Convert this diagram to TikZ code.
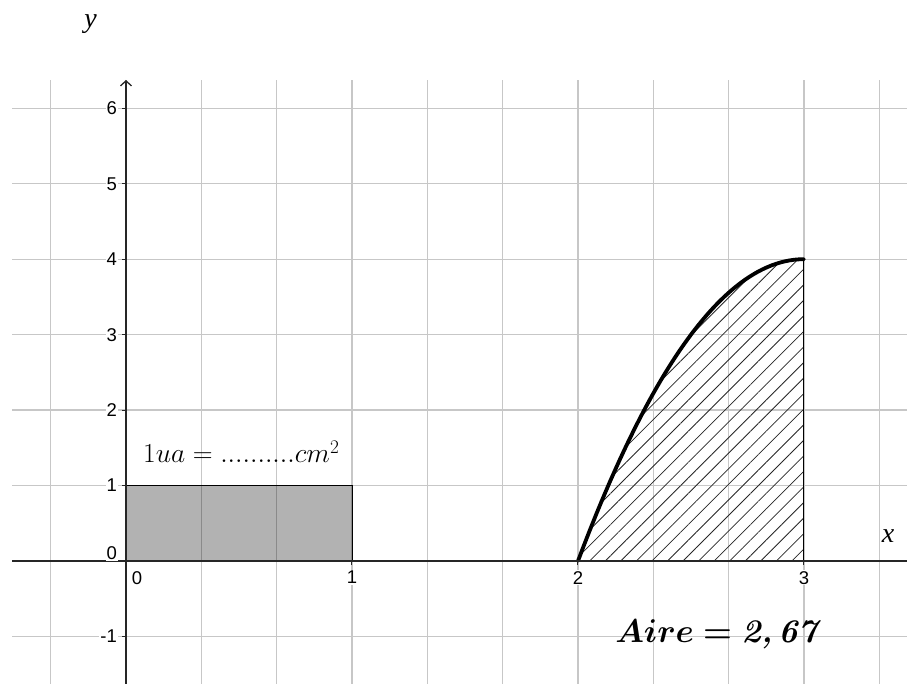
\RequirePackage{fix-cm}
\documentclass[tikz,border=0pt]{standalone}
\usepackage{amsmath}
\usepackage{fontspec}
\newfontfamily\ticksfont{Liberation Sans}
\newfontfamily\varsfont{Liberation Serif}
\usetikzlibrary{arrows.meta, patterns.meta}

\begin{document}
\begin{tikzpicture}[
        x=226pt, y=75.45pt,
        gridline/.style={
            draw=black!22,
            line width=1.2pt
        },
        axis/.style={
            draw=black!85,
            line width=1.3pt
        },
        tickmark/.style={axis, line width=1pt},
        ticklabel/.style={
            fill=white,
            inner sep=1pt,
            font=\ticksfont\fontsize{18.5}{18.5}\selectfont
        },
        varlabel/.style={
            inner sep=0pt,
            font=\varsfont\itshape\fontsize{28}{28}\selectfont
        },
        unitbox/.style={draw=black, line width=0.8pt, fill=black, fill opacity=0.3},
        hatch/.style={
            pattern={Lines[angle=45, distance=11pt, line width=0.8pt]},
            pattern color=black!85
        },
        curve/.style={line width=3.8pt, line cap=round}
    ]
    \useasboundingbox (-0.5575,-1.6302) rectangle (3.4558,7.4354);

    % Grid (x every 1/3, y every 1)
    \foreach \k in {-1,...,10}
        \draw[gridline] (\k/3,-1.6302) -- (\k/3,6.375);
    \foreach \j in {-1,...,6}
        \draw[gridline] (-0.504,\j) -- (3.4558,\j);

    % Unit square (grey) and hatched area
    \draw[unitbox] (0,0) rectangle (1,1);
    \path[hatch] plot[domain=2:3, samples=50] (\x,{4-4*(\x-3)^2}) -- (3,0) -- cycle;
    \draw[line width=1pt] (3,0) -- (3,4);
    \draw[curve] plot[domain=2:3, samples=50] (\x,{4-4*(\x-3)^2});

    % Axes
    \draw[axis] (-0.504,0) -- (3.4558,0);
    \draw[axis, -{Straight Barb[length=5pt, width=11pt]}] (0,-1.6302) -- (0,6.375);
    \foreach \i in {1,2,3}
        \draw[tickmark] (\i,0) -- ++(0pt,-4pt);
    \foreach \j in {-1,1,2,...,6}
        \draw[tickmark] (0,\j) -- ++(-4pt,0pt);

    % Tick labels
    \node[ticklabel, anchor=north, xshift=11pt, yshift=-9pt] (xlab0) at (0,0) {0};
    \foreach \i in {1,2,3}
        \node[ticklabel, anchor=north, yshift=-9pt] (xlab\i) at (\i,0) {\i};
    \node[ticklabel, anchor=east, xshift=-8pt, yshift=8pt] (ylab0) at (0,0) {0};
    \foreach \j in {-1,1,2,...,6}
        \node[ticklabel, anchor=east, xshift=-8pt] (ylab\j) at (0,\j) {\j};
    \node[varlabel, anchor=base] (xname) at (3.372,0.239) {x};
    \node[varlabel, anchor=base] (yname) at (-0.157,7.077) {y};

    % Texts
    \node[anchor=base west, inner sep=0pt, font=\fontsize{27.5}{30}\selectfont]
        (unitlabel) at (0.075,1.299) {$1ua = ..........cm^2$};
    \node[anchor=base west, inner sep=0pt, font=\fontsize{33}{36}\selectfont]
        (aire) at (2.164,-1.074)
        {$\boldsymbol{Aire}\mathrel{\boldsymbol{=}}\text{\bfseries\itshape 2,\,67}$};

\end{tikzpicture}
\end{document}
